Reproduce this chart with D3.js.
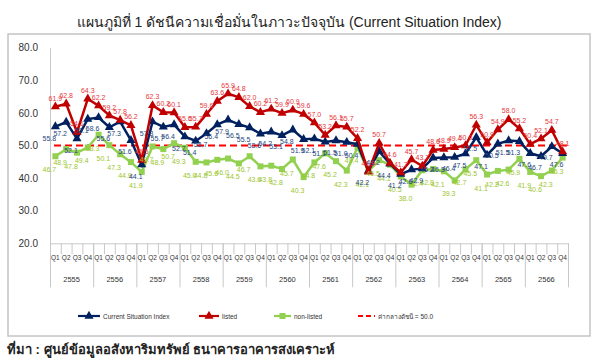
<!DOCTYPE html>
<html>
<head>
<meta charset="utf-8">
<script src="https://cdn.jsdelivr.net/npm/d3@7"></script>
<style>
body { margin: 0; background: #fff; }
text { font-family: "Liberation Sans", Arial, sans-serif; }
</style>
</head>
<body>
<svg id="viz" width="600" height="360"></svg>
<script>
// Data

var years = ["2555","2556","2557","2558","2559","2560","2561","2562","2563","2564","2565","2566"];
var quarters = ["Q1","Q2","Q3","Q4"];

var csi = [55.8,57.2,52.1,58.1, 58.6,55.6,57.3,51.6, 44.1,57.3,55.7,56.4,
           52.7,51.4,53.7,56.4, 57.9,56.5,55.5,53.6, 54.2,53.1,54.8,51.9,
           52.1,51.1,51.5,51.0, 50.4,42.2,48.2,44.4, 41.2,42.6,42.9,46.2,
           46.3,46.4,47.5,52.5, 47.1,50.5,51.5,51.3, 47.6,46.7,49.7,47.6];

var listed = [61.9,62.8,54.1,64.3, 62.2,59.2,57.8,56.2, 45.5,62.3,60.2,60.1,
              55.6,55.7,59.6,63.6, 65.9,64.8,62.0,60.2, 61.2,59.9,60.9,59.6,
              57.0,53.2,56.1,55.7, 52.2,41.9,50.7,44.6, 41.7,45.7,43.7,48.6,
              48.9,49.4,50.0,56.3, 50.9,54.9,58.0,55.2, 50.4,52.1,54.7,48.1];

var nonlisted = [46.7,48.9,47.8,49.4, 53.3,50.1,47.3,44.9, 41.9,49.7,48.9,50.7,
                 49.3,45.0,44.8,45.6, 46.0,44.5,46.7,43.6, 43.8,42.8,45.7,40.3,
                 44.8,47.6,45.2,42.3, 49.4,42.1,45.5,44.1, 40.5,38.0,42.4,42.8,
                 42.1,39.3,42.7,45.5, 41.1,42.2,42.6,45.9, 41.9,40.6,42.3,46.3];

var midValue = 50;
var yTicks = [20, 30, 40, 50, 60, 70, 80];

var titleText = "แผนภูมิที่ 1 ดัชนีความเชื่อมั่นในภาวะปัจจุบัน (Current Situation Index)";
var sourceText = "ที่มา : ศูนย์ข้อมูลอสังหาริมทรัพย์ ธนาคารอาคารสงเคราะห์";

var nPts = years.length * quarters.length;

var svg = d3.select("#viz");

// Title and outer frame

svg.append("text")
    .attr("x", 289).attr("y", 27)
    .attr("text-anchor", "middle")
    .style("font-size", "14px")
    .style("fill", "#222")
    .text(titleText);

svg.append("rect")
    .attr("x", 8).attr("y", 34)
    .attr("width", 582).attr("height", 302)
    .attr("fill", "none")
    .attr("stroke", "#c4c4c4")
    .attr("stroke-width", 1.5);

svg.append("text")
    .attr("x", 7).attr("y", 354)
    .style("font-size", "13px")
    .style("font-weight", "bold")
    .style("fill", "#222")
    .text(sourceText);

// Scales

var xb = d3.scaleLinear().domain([0, nPts]).range([50, 568]);
var xc = i => xb(i + 0.5);
var y = d3.scaleLinear().domain([20, 80]).range([243.3, 47.7]);

// Axes

var yAxis = svg.append("g")
    .attr("transform", "translate(50,0)")
    .call(d3.axisLeft(y).tickValues(yTicks).tickSize(0).tickPadding(12).tickFormat(d3.format(".1f")));
yAxis.select(".domain").attr("stroke", "#c8c8c8");
yAxis.selectAll("text").style("font-size", "10px").style("fill", "#333")
    .style("font-family", "'Liberation Sans', Arial, sans-serif");

var qAxis = svg.append("g")
    .attr("transform", "translate(0," + y(20) + ")")
    .call(d3.axisBottom(xb).tickValues(d3.range(nPts + 1)).tickSize(11).tickFormat(""));
qAxis.select(".domain").attr("stroke", "#c8c8c8");
qAxis.selectAll(".tick line").attr("stroke", "#c8c8c8");

var yrAxis = svg.append("g")
    .attr("transform", "translate(0," + y(20) + ")")
    .call(d3.axisBottom(xb).tickValues(d3.range(0, nPts + 1, 4)).tickSize(44).tickFormat(""));
yrAxis.select(".domain").remove();
yrAxis.selectAll(".tick line").attr("stroke", "#c8c8c8");

svg.append("g").selectAll("text")
    .data(d3.range(nPts))
    .enter().append("text")
    .attr("x", d => xc(d))
    .attr("y", 260)
    .attr("text-anchor", "middle")
    .style("font-size", "6.5px")
    .style("fill", "#333")
    .text(d => quarters[d % 4]);

svg.append("g").selectAll("text")
    .data(years)
    .enter().append("text")
    .attr("x", (d, i) => xb(i * 4 + 2))
    .attr("y", 282)
    .attr("text-anchor", "middle")
    .style("font-size", "7.5px")
    .style("fill", "#333")
    .text(d => d);

// Reference line at 50

svg.append("line")
    .attr("x1", xb(0) + 4).attr("x2", xb(nPts))
    .attr("y1", y(midValue)).attr("y2", y(midValue))
    .attr("stroke", "#ff0000")
    .attr("stroke-width", 2.2)
    .attr("stroke-dasharray", "7,4");

// Series

var series = [
    {name: "non-listed", values: nonlisted, color: "#92d050", label: "#9dc62e", marker: "square", dx: -6, dy: 16},
    {name: "Current Situation Index", values: csi, color: "#002060", label: "#25467e", marker: "triangle", dx: -6, dy: 14},
    {name: "listed", values: listed, color: "#c00000", label: "#e8383d", marker: "triangle", dx: 0, dy: -6}
];

var line = d3.line().x((d, i) => xc(i)).y(d => y(d));
var triangle = d3.symbol().type(d3.symbolTriangle).size(36);
var square = d3.symbol().type(d3.symbolSquare).size(36);

series.forEach(function(s) {
    var g = svg.append("g");
    g.append("path")
        .attr("d", line(s.values))
        .attr("fill", "none")
        .attr("stroke", s.color)
        .attr("stroke-width", 2.5);
    g.selectAll("path.m")
        .data(s.values)
        .enter().append("path")
        .attr("class", "m")
        .attr("transform", (d, i) => "translate(" + xc(i) + "," + y(d) + ")")
        .attr("d", s.marker == "square" ? square : triangle)
        .attr("fill", s.color);
});

series.forEach(function(s) {
    svg.append("g").selectAll("text")
        .data(s.values)
        .enter().append("text")
        .attr("x", (d, i) => xc(i) + s.dx)
        .attr("y", d => y(d) + s.dy)
        .attr("text-anchor", "middle")
        .style("font-size", "7px")
        .style("fill", s.label)
        .text(d => d.toFixed(1));
});

// Legend

var legend = [
    {text: "Current Situation Index", color: "#002060", marker: "triangle", x: 78, w: 22},
    {text: "listed", color: "#c00000", marker: "triangle", x: 199, w: 20},
    {text: "non-listed", color: "#92d050", marker: "square", x: 274, w: 17},
    {text: "ค่ากลางดัชนี = 50.0", color: "#ff0000", marker: "dash", x: 358, w: 17}
];

var lg = svg.append("g").selectAll("g")
    .data(legend)
    .enter().append("g")
    .attr("transform", d => "translate(" + d.x + ",316)");

lg.append("line")
    .attr("x1", 0).attr("x2", d => d.w)
    .attr("stroke", d => d.color)
    .attr("stroke-width", 2.2)
    .attr("stroke-dasharray", d => d.marker == "dash" ? "5,3" : null);

lg.filter(d => d.marker != "dash").append("path")
    .attr("transform", d => "translate(" + d.w / 2 + ",0)")
    .attr("d", d => d.marker == "square" ? square() : triangle())
    .attr("fill", d => d.color);

lg.append("text")
    .attr("x", d => d.w + 3)
    .attr("y", 2.5)
    .style("font-size", "6.5px")
    .style("fill", "#333")
    .text(d => d.text);
</script>
</body>
</html>
